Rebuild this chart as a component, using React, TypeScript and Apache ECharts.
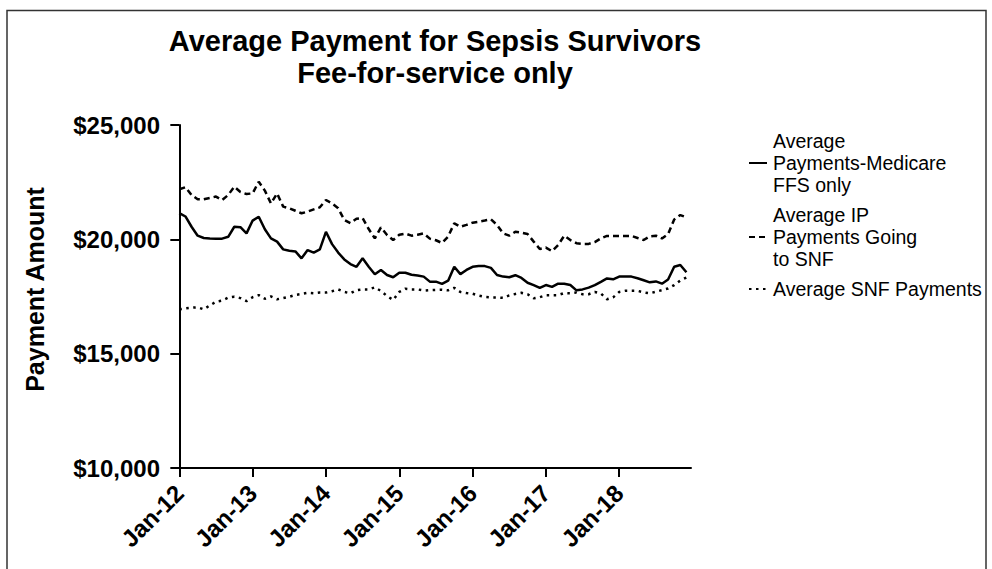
import React, { useEffect, useRef } from "react";
import * as echarts from "echarts";

const FONT = "'Liberation Sans', Arial, Helvetica, sans-serif";

const tickLabels = ["Jan-12", "Jan-13", "Jan-14", "Jan-15", "Jan-16", "Jan-17", "Jan-18"];
const tickMonths = [0, 12, 24, 36, 48, 60, 72];

const seriesNames = [
  "Average Payments-Medicare FFS only",
  "Average IP Payments Going to SNF",
  "Average SNF Payments",
];
const legendLabels = [
  "Average\nPayments-Medicare\nFFS only",
  "Average IP\nPayments Going\nto SNF",
  "Average SNF Payments",
];

const medicareFFS = [
  21150, 21000, 20550, 20160, 20060, 20040, 20030, 20030, 20110, 20550, 20530, 20260,
  20820, 20990, 20440, 20040, 19900, 19560, 19500, 19470, 19170, 19530, 19420, 19560,
  20330, 19790, 19420, 19120, 18920, 18800, 19170, 18800, 18470, 18660, 18440, 18340,
  18540, 18540, 18450, 18420, 18370, 18150, 18150, 18050, 18190, 18800, 18480, 18660,
  18800, 18830, 18830, 18750, 18440, 18370, 18340, 18430, 18310, 18100, 18000, 17880,
  18000, 17920, 18060, 18060, 18000, 17770, 17810, 17890, 18000, 18140, 18290, 18250,
  18370, 18380, 18370, 18300, 18210, 18120, 18160, 18060, 18240, 18800, 18880, 18560,
];

const ipGoingToSNF = [
  22190, 22280, 21940, 21750, 21750, 21810, 21870, 21720, 21940, 22300, 22070, 21980,
  22010, 22520, 22130, 21570, 22010, 21430, 21360, 21250, 21140, 21210, 21310, 21400,
  21720, 21570, 21360, 20850, 20710, 20900, 20930, 20450, 20040, 20520, 20190, 19970,
  20200, 20250, 20160, 20200, 20260, 20030, 19960, 19840, 20120, 20700, 20550, 20630,
  20730, 20770, 20820, 20875, 20630, 20260, 20160, 20330, 20290, 20230, 19900, 19580,
  19640, 19480, 19750, 20160, 19970, 19830, 19800, 19800, 19880, 20040, 20150, 20150,
  20150, 20150, 20150, 20060, 19970, 20130, 20160, 20040, 20230, 20870, 21060, 20960,
];

const snfPayments = [
  16940, 16980, 17010, 17030, 16940, 17110, 17270, 17320, 17450, 17490, 17430, 17300,
  17470, 17560, 17400, 17500, 17380, 17430, 17490, 17570, 17610, 17660, 17640, 17670,
  17670, 17730, 17810, 17700, 17640, 17780, 17810, 17810, 17900, 17740, 17520, 17350,
  17700, 17840, 17810, 17810, 17760, 17780, 17790, 17800, 17770, 17880, 17700, 17650,
  17620, 17540, 17480, 17460, 17460, 17440, 17550, 17610, 17660, 17600, 17420, 17470,
  17560, 17560, 17560, 17650, 17640, 17670, 17600, 17600, 17700, 17630, 17380, 17460,
  17700, 17750, 17750, 17750, 17680, 17640, 17710, 17780, 17850, 18000, 18200, 18330,
];

const toPairs = (arr: number[]) => arr.map((v, i) => [i, v]);

export default function App() {
  const ref = useRef<HTMLDivElement>(null);
  useEffect(() => {
    document.body.style.margin = "0";
    if (!ref.current) return;
    const chart = echarts.init(ref.current, undefined, { renderer: "svg" });
    const axisLine = { show: true, lineStyle: { color: "#000", width: 2 } };
    const axisTick = { show: true, length: 9, lineStyle: { color: "#000", width: 2 } };
    chart.setOption({
      animation: false,
      backgroundColor: "#fff",
      title: {
        text: "Average Payment for Sepsis Survivors\nFee-for-service only",
        left: 430,
        top: 20,
        textAlign: "center",
        textStyle: {
          fontFamily: FONT,
          fontWeight: "bold",
          fontSize: 29,
          lineHeight: 32,
          color: "#000",
        },
      },
      graphic: [
        {
          type: "rect",
          shape: { x: 7, y: 10.5, width: 979, height: 600 },
          style: { fill: "none", stroke: "#333", lineWidth: 1.5 },
          silent: true,
        },
      ],
      legend: {
        orient: "vertical",
        left: 743,
        top: 125,
        itemWidth: 18,
        itemHeight: 14,
        itemGap: 8,
        data: seriesNames,
        itemStyle: { opacity: 0 },
        formatter: (name: string) => legendLabels[seriesNames.indexOf(name)],
        textStyle: {
          fontFamily: FONT,
          fontSize: 19.5,
          lineHeight: 22,
          color: "#000",
          padding: [0, 0, 0, 1],
        },
      },
      grid: { left: 177, right: 301, top: 125, bottom: 101, containLabel: false },
      xAxis: {
        type: "value",
        min: -0.38,
        max: 83.75,
        splitLine: { show: false },
        axisLine,
        axisTick: { ...axisTick, customValues: tickMonths },
        axisLabel: {
          customValues: tickMonths,
          formatter: (v: number) => tickLabels[tickMonths.indexOf(Math.round(v))] ?? "",
          rotate: 45,
          margin: 21,
          fontFamily: FONT,
          fontWeight: "bold",
          fontSize: 24,
          color: "#000",
        },
      },
      yAxis: {
        type: "value",
        min: 10000,
        max: 25000,
        interval: 5000,
        name: "Payment Amount",
        nameLocation: "middle",
        nameGap: 130,
        nameTextStyle: {
          fontFamily: FONT,
          fontWeight: "bold",
          fontSize: 25,
          color: "#000",
          padding: [0, 0, 0, 14],
        },
        splitLine: { show: false },
        axisLine,
        axisTick,
        axisLabel: {
          margin: 17,
          formatter: (v: number) => "$" + v.toLocaleString("en-US"),
          fontFamily: FONT,
          fontWeight: "bold",
          fontSize: 24,
          color: "#000",
        },
      },
      series: [
        {
          name: seriesNames[0],
          type: "line",
          data: toPairs(medicareFFS),
          symbol: "none",
          lineStyle: { color: "#000", width: 2.5, type: "solid" },
          itemStyle: { color: "#000" },
        },
        {
          name: seriesNames[1],
          type: "line",
          data: toPairs(ipGoingToSNF),
          symbol: "none",
          lineStyle: { color: "#000", width: 2.5, type: [6, 4] },
          itemStyle: { color: "#000" },
        },
        {
          name: seriesNames[2],
          type: "line",
          data: toPairs(snfPayments),
          symbol: "none",
          lineStyle: { color: "#000", width: 2.5, type: [2.5, 4.5] },
          itemStyle: { color: "#000" },
        },
      ],
    });
    return () => chart.dispose();
  }, []);
  return <div ref={ref} style={{ width: 992, height: 569 }} />;
}
